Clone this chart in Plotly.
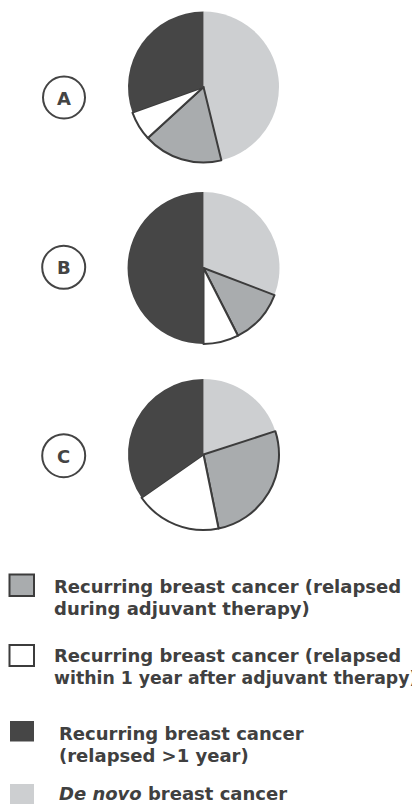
import plotly.graph_objects as go

# ---- data ----
categories = [
    "De novo breast cancer",
    "Recurring breast cancer (relapsed during adjuvant therapy)",
    "Recurring breast cancer (relapsed within 1 year after adjuvant therapy)",
    "Recurring breast cancer (relapsed >1 year)",
]
panel_labels = ["A", "B", "C"]
values_A = [46.2, 17.0, 6.3, 30.5]
values_B = [30.8, 11.7, 7.5, 50.0]
values_C = [20.0, 26.8, 18.5, 34.7]
panel_values = [values_A, values_B, values_C]

legend_order = [1, 2, 3, 0]
legend_lines = [
    ["Recurring breast cancer (relapsed", "during adjuvant therapy)"],
    ["Recurring breast cancer (relapsed", "within 1 year after adjuvant therapy)"],
    ["Recurring breast cancer", "(relapsed >1 year)"],
    ["<i>De novo</i> breast cancer"],
]

# ---- style ----
# The page body has an 8px margin, so the figure is placed at (8, 8).
OX, OY = 8, 8
W, H = 412, 797
slice_colors = ["#cdcfd1", "#a9acae", "#ffffff", "#464646"]
outline_color = "#3c3c3c"
outline_widths = [0, 2, 2, 0]
text_color = "#404040"
FONT = "DejaVu Sans"


def fx(x):
    return (x - OX) / W


def fy(y):
    return 1 - (y - OY) / H


pie_geom = [(203.5, 87.0, 75.5), (203.5, 268.0, 76.0), (203.5, 454.5, 75.5)]
circle_geom = [(64.0, 97.5, 21.0), (63.7, 267.3, 21.5), (63.7, 455.7, 21.5)]

fig = go.Figure()
for vals, (cx, cy, r) in zip(panel_values, pie_geom):
    fig.add_trace(go.Pie(
        labels=categories,
        values=vals,
        sort=False,
        direction="clockwise",
        rotation=0,
        textinfo="none",
        hoverinfo="label+percent",
        marker=dict(colors=slice_colors,
                    line=dict(color=outline_color, width=outline_widths)),
        domain=dict(x=[fx(cx - r), fx(cx + r)], y=[fy(cy + r), fy(cy - r)]),
        showlegend=False,
    ))

shapes = []
annotations = []
for lab, (cx, cy, r) in zip(panel_labels, circle_geom):
    shapes.append(dict(type="circle", xref="paper", yref="paper",
                       x0=fx(cx - r), x1=fx(cx + r), y0=fy(cy + r), y1=fy(cy - r),
                       line=dict(color="#444444", width=2), fillcolor="rgba(0,0,0,0)"))
    annotations.append(dict(text="<b>%s</b>" % lab, x=fx(cx), y=fy(cy + 0.5),
                            xref="paper", yref="paper", xanchor="center", yanchor="middle",
                            showarrow=False, font=dict(family=FONT, size=18, color="#444444")))

# legend geometry: (square x0,x1,y0,y1, border width, text x, baselines, font sizes)
legend_geom = [
    (9.5, 34.0, 574.5, 596.0, 2, 52.0, [592.5, 615.0], [18, 18]),
    (9.5, 34.0, 645.0, 666.0, 2, 52.0, [661.7, 684.0], [18, 17.3]),
    (10.0, 34.0, 721.0, 741.5, 0, 57.0, [740.0, 761.7], [18, 18]),
    (10.0, 34.0, 784.0, 804.0, 0, 57.0, [800.0], [18]),
]
for idx, lines, (x0, x1, y0, y1, bw, tx, bases, sizes) in zip(legend_order, legend_lines, legend_geom):
    shapes.append(dict(type="rect", xref="paper", yref="paper",
                       x0=fx(x0), x1=fx(x1), y0=fy(y1), y1=fy(y0),
                       fillcolor=slice_colors[idx],
                       line=dict(color=outline_color if bw else slice_colors[idx], width=bw if bw else 0)))
    for line, b, s in zip(lines, bases, sizes):
        annotations.append(dict(text="<b>%s</b>" % line, x=fx(tx), y=fy(b - 0.345 * s),
                                xref="paper", yref="paper", xanchor="left", yanchor="middle",
                                showarrow=False,
                                font=dict(family=FONT, size=s, color=text_color)))

fig.update_layout(
    width=W, height=H,
    margin=dict(l=0, r=0, t=0, b=0),
    paper_bgcolor="white", plot_bgcolor="white",
    shapes=shapes, annotations=annotations,
    showlegend=False,
)
fig.write_html("out.html")
